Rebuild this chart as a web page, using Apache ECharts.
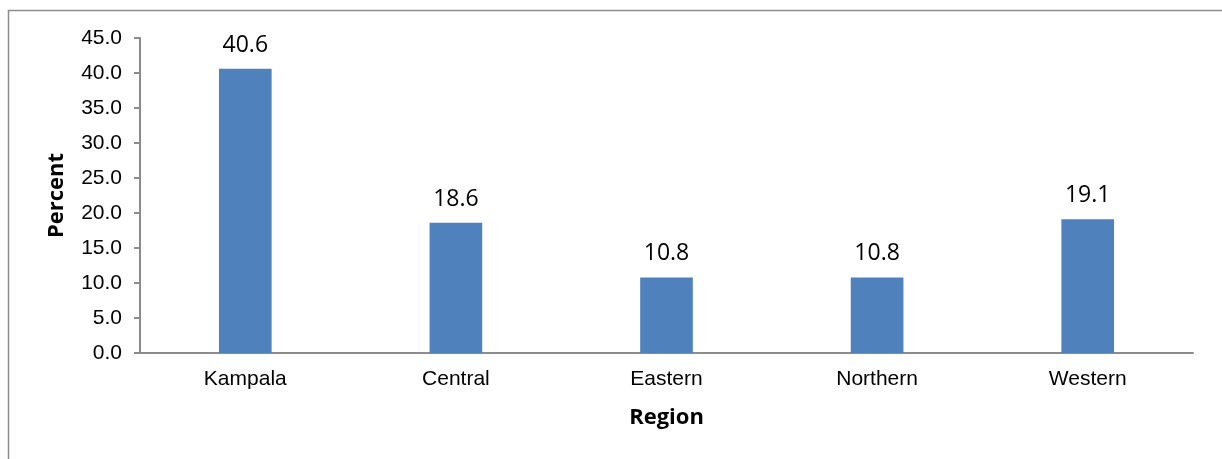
<!DOCTYPE html>
<html>
<head>
<meta charset="utf-8">
<script src="https://cdn.jsdelivr.net/npm/echarts@6/dist/echarts.min.js"></script>
<style>
html,body{margin:0;padding:0;background:#fff;}
#c{width:1222px;height:459px;}
</style>
</head>
<body>
<div id="c"></div>
<script>
var categories = ['Kampala', 'Central', 'Eastern', 'Northern', 'Western'];
var percentValues = [40.6, 18.6, 10.8, 10.8, 19.1];
var yMin = 0, yMax = 45, yStep = 5;

var chart = echarts.init(document.getElementById('c'), null, {renderer: 'canvas'});
chart.setOption({
  animation: false,
  backgroundColor: '#ffffff',
  graphic: [{
    type: 'rect',
    left: 6, top: 8,
    shape: {width: 1400, height: 600},
    style: {fill: 'none', stroke: '#8c8c8c', lineWidth: 1.5},
    silent: true
  }],
  grid: {left: 140, right: 29, top: 38, bottom: 106},
  xAxis: {
    type: 'category',
    data: categories,
    axisLine: {show: true, lineStyle: {color: '#8c8c8c', width: 2}},
    axisTick: {show: false},
    axisLabel: {color: '#000', fontFamily: 'Liberation Sans, Arial', fontSize: 21, margin: 16},
    name: 'Region',
    nameLocation: 'middle',
    nameGap: 54,
    nameTextStyle: {color: '#000', fontFamily: 'Open Sans', fontWeight: 'bold', fontSize: 22}
  },
  yAxis: {
    type: 'value',
    min: yMin, max: yMax, interval: yStep,
    axisLine: {show: true, lineStyle: {color: '#8c8c8c', width: 2}},
    axisTick: {show: true, length: 6, lineStyle: {color: '#8c8c8c', width: 2}},
    splitLine: {show: false},
    axisLabel: {color: '#000', fontFamily: 'Liberation Sans, Arial', fontSize: 21, margin: 18,
      formatter: function (v) { return v.toFixed(1); }},
    name: 'Percent',
    nameLocation: 'middle',
    nameGap: 72,
    nameTextStyle: {color: '#000', fontFamily: 'Open Sans', fontWeight: 'bold', fontSize: 22}
  },
  series: [{
    type: 'bar',
    data: percentValues,
    barWidth: '25%',
    itemStyle: {color: '#4F81BD'},
    label: {
      show: true, position: 'top', distance: 12,
      color: '#000', fontFamily: 'Open Sans', fontSize: 23,
      formatter: function (p) { return p.value.toFixed(1); }
    }
  }]
});
</script>
</body>
</html>
